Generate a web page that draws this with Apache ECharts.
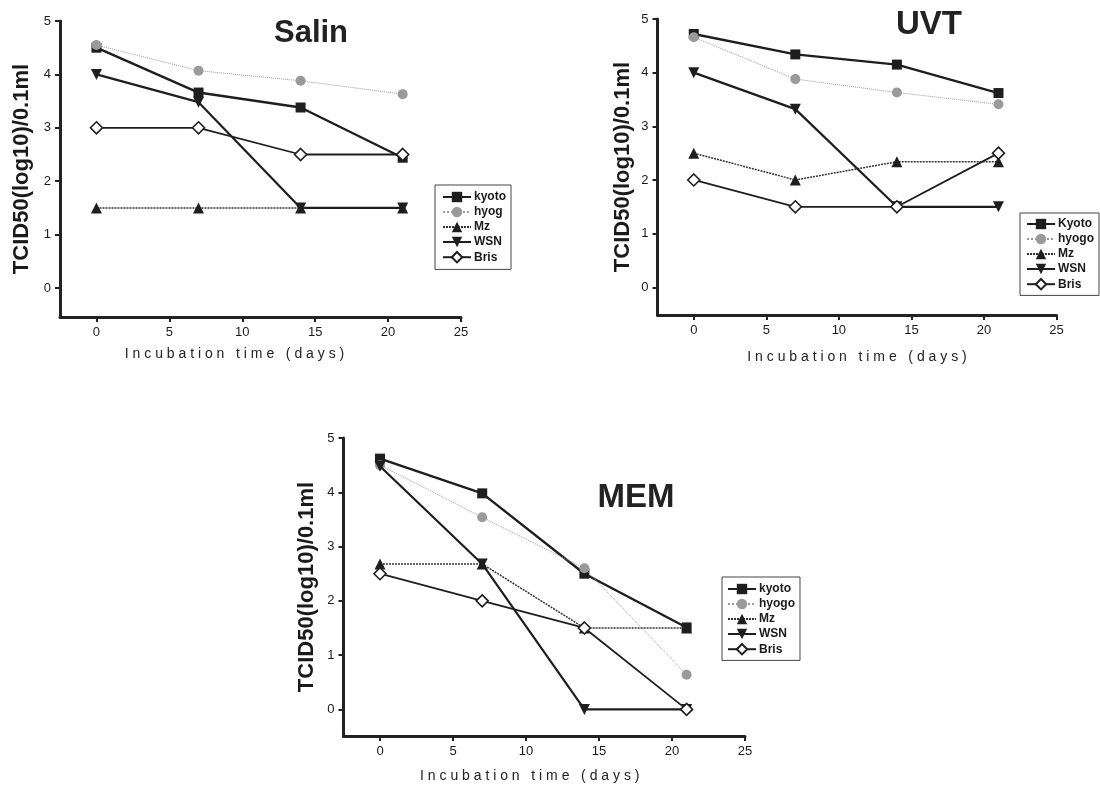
<!DOCTYPE html>
<html>
<head>
<meta charset="utf-8">
<script src="https://cdn.jsdelivr.net/npm/echarts@6/dist/echarts.min.js"></script>
<style>
html,body{margin:0;padding:0;background:#fff;}
#main{width:1100px;height:787px;}
</style>
</head>
<body>
<div id="main"></div>
<script>
// incubation days
var days = [0, 7, 14, 21];
var xTicks = [0, 5, 10, 15, 20, 25];
var yTicks = [0, 1, 2, 3, 4, 5];

// Salin
var salinKyoto = [4.5, 3.66, 3.38, 2.44];
var salinHyog = [4.55, 4.07, 3.88, 3.63];
var salinMz = [1.5, 1.5, 1.5, 1.5];
var salinWSN = [4.0, 3.48, 1.5, 1.5];
var salinBris = [3.0, 3.0, 2.5, 2.5];

// UVT
var uvtKyoto = [4.72, 4.34, 4.15, 3.62];
var uvtHyogo = [4.66, 3.88, 3.63, 3.41];
var uvtMz = [2.5, 2.0, 2.34, 2.34];
var uvtWSN = [4.0, 3.32, 1.5, 1.5];
var uvtBris = [2.0, 1.5, 1.5, 2.5];

// MEM
var memKyoto = [4.62, 3.98, 2.5, 1.51];
var memHyogo = [4.5, 3.54, 2.6, 0.64];
var memMz = [2.68, 2.68, 1.5, 1.5];
var memWSN = [4.48, 2.68, 0, 0];
var memBris = [2.5, 2.0, 1.5, 0];

var salinNames = ['kyoto', 'hyog', 'Mz', 'WSN', 'Bris'];
var uvtNames = ['Kyoto', 'hyogo', 'Mz', 'WSN', 'Bris'];
var memNames = ['kyoto', 'hyogo', 'Mz', 'WSN', 'Bris'];

var FONT = '"Liberation Sans", Arial, sans-serif';

function pairs(vals){
	var out = [];
	for(var i=0; i<days.length; i++){
		out.push([days[i], vals[i]]);
	}
	return out;
}

// style per strain, same order as the name lists
var strainStyle = [
	{symbol:'rect', symbolSize:10, itemStyle:{color:'#1e1e1e'}, lineStyle:{color:'#1e1e1e', width:2.4}},
	{symbol:'circle', symbolSize:10, itemStyle:{color:'#9a9a9a'}, lineStyle:{color:'#9a9a9a', width:1, type:'dotted'}},
	{symbol:'triangle', symbolSize:11, itemStyle:{color:'#1e1e1e'}, lineStyle:{color:'#333', width:1.5, type:[2,1]}},
	{symbol:'triangle', symbolSize:11, symbolRotate:180, itemStyle:{color:'#1e1e1e'}, lineStyle:{color:'#1e1e1e', width:2.2}},
	{symbol:'diamond', symbolSize:12, itemStyle:{color:'#fff', borderColor:'#1e1e1e', borderWidth:1.6}, lineStyle:{color:'#1e1e1e', width:1.8}}
];

function makeSeries(idx, names, sets){
	var list = [];
	for(var i=0; i<names.length; i++){
		var st = strainStyle[i];
		list.push({
			name: names[i],
			type: 'line',
			xAxisIndex: idx,
			yAxisIndex: idx,
			data: pairs(sets[i]),
			symbol: st.symbol,
			symbolSize: st.symbolSize,
			symbolRotate: st.symbolRotate || 0,
			itemStyle: st.itemStyle,
			lineStyle: st.lineStyle,
			showAllSymbol: true,
			animation: false,
			emphasis: {disabled: true},
			z: 2 + i
		});
	}
	return list;
}

function spaced(s){
	return s.split('').join(' ');
}

function xAxisFor(idx, gap, shift){
	return {
		type: 'value', gridIndex: idx, min: -2.5, max: 25,
		name: spaced('Incubation time (days)'),
		nameLocation: 'middle', nameGap: gap,
		nameTextStyle: {fontFamily: FONT, fontSize: 14, color: '#222', padding: [0, shift, 0, 0]},
		axisLine: {show: true, onZero: false, lineStyle: {color: '#222', width: 3}},
		axisTick: {show: true, customValues: xTicks, length: 5, lineStyle: {color: '#222', width: 2}},
		axisLabel: {customValues: xTicks, margin: 9, fontFamily: FONT, fontSize: 13, color: '#1a1a1a'},
		splitLine: {show: false}
	};
}

function yAxisFor(idx, min, gap){
	return {
		type: 'value', gridIndex: idx, min: min, max: 5,
		name: 'TCID50(log10)/0.1ml',
		nameLocation: 'middle', nameGap: gap,
		nameTextStyle: {fontFamily: FONT, fontSize: 22, fontWeight: 'bold', color: '#1a1a1a'},
		axisLine: {show: true, onZero: false, lineStyle: {color: '#222', width: 3}},
		axisTick: {show: true, customValues: yTicks, length: 5, lineStyle: {color: '#222', width: 2}},
		axisLabel: {customValues: yTicks, margin: 9, fontFamily: FONT, fontSize: 13, color: '#1a1a1a'},
		splitLine: {show: false}
	};
}

function legendFor(names, left, top, pad){
	return {
		data: names,
		orient: 'vertical',
		left: left, top: top,
		itemWidth: 28, itemHeight: 13, itemGap: 3,
		padding: pad,
		borderColor: '#444', borderWidth: 1, borderRadius: 0,
		selectedMode: false,
		textStyle: {fontFamily: FONT, fontSize: 12, fontWeight: 'bold', color: '#1a1a1a', padding: [0,0,0,-2]}
	};
}

var myChart = echarts.init(document.getElementById('main'), null, {renderer: 'canvas'});

var series = [].concat(
	makeSeries(0, salinNames, [salinKyoto, salinHyog, salinMz, salinWSN, salinBris]),
	makeSeries(1, uvtNames, [uvtKyoto, uvtHyogo, uvtMz, uvtWSN, uvtBris]),
	makeSeries(2, memNames, [memKyoto, memHyogo, memMz, memWSN, memBris])
);

var option = {
	backgroundColor: '#fff',
	animation: false,
	grid: [
		{left: 60, top: 21, width: 401, height: 296},
		{left: 657.5, top: 19, width: 399, height: 296},
		{left: 343.5, top: 438, width: 401.5, height: 298}
	],
	xAxis: [xAxisFor(0, 30, 52), xAxisFor(1, 35, 0), xAxisFor(2, 33, 29)],
	yAxis: [yAxisFor(0, -0.543, 27), yAxisFor(1, -0.517, 24), yAxisFor(2, -0.49, 26)],
	legend: [
		legendFor(salinNames, 435, 185, [6, 5, 6, 7]),
		legendFor(uvtNames, 1020, 213, [5, 5, 5, 6]),
		legendFor(memNames, 722, 577, [6, 5, 5, 5])
	],
	graphic: [
		{type: 'text', x: 311, y: 33, style: {text: 'Salin', align: 'center', verticalAlign: 'middle', font: 'bold 31px ' + FONT, fill: '#222'}},
		{type: 'text', x: 929, y: 25, style: {text: 'UVT', align: 'center', verticalAlign: 'middle', font: 'bold 33px ' + FONT, fill: '#222'}},
		{type: 'text', x: 636, y: 498, style: {text: 'MEM', align: 'center', verticalAlign: 'middle', font: 'bold 33px ' + FONT, fill: '#222'}}
	],
	series: series
};

myChart.setOption(option);
</script>
</body>
</html>
